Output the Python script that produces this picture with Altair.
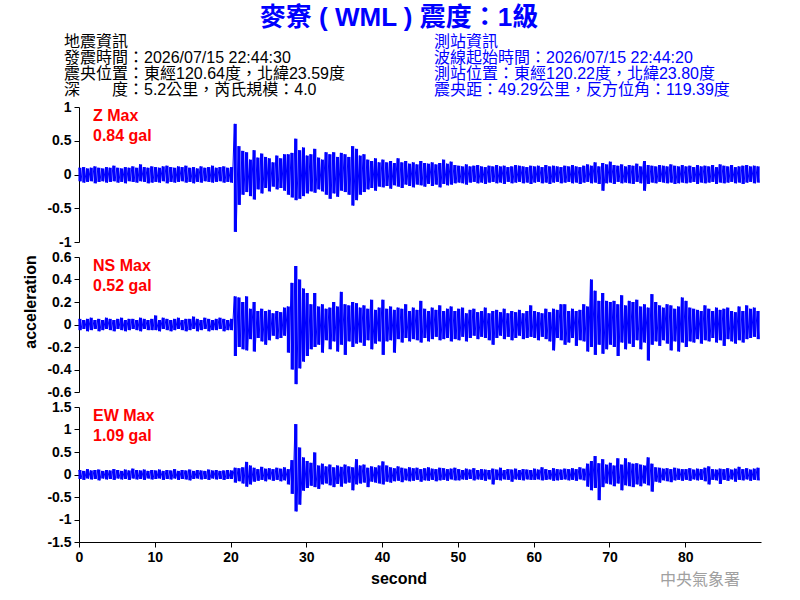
import altair as alt
import pandas as pd

# ---- waveform envelopes: one upper and one lower value per 0.5 s ----
STEP = 0.5

Z_UP = [
    0.10,0.11,0.09,0.10,0.12,0.10,0.09,0.11,0.10,0.13,0.10,0.09,0.11,0.10,0.12,0.10,0.15,0.11,0.10,0.12,
    0.11,0.10,0.12,0.13,0.11,0.10,0.12,0.11,0.13,0.10,0.11,0.09,0.12,0.10,0.11,0.13,0.10,0.11,0.12,0.10,
    0.11,0.75,0.42,0.35,0.33,0.22,0.36,0.25,0.31,0.26,0.24,0.18,0.28,0.24,0.30,0.30,0.32,0.53,0.36,0.40,
    0.28,0.30,0.38,0.25,0.22,0.33,0.30,0.33,0.26,0.32,0.30,0.26,0.42,0.38,0.28,0.30,0.22,0.20,0.24,0.18,
    0.22,0.18,0.20,0.17,0.24,0.18,0.20,0.16,0.18,0.15,0.20,0.17,0.16,0.18,0.15,0.17,0.22,0.16,0.19,0.14,
    0.13,0.12,0.15,0.12,0.13,0.14,0.12,0.11,0.13,0.12,0.14,0.12,0.13,0.11,0.12,0.14,0.13,0.12,0.11,0.13,
    0.12,0.13,0.11,0.14,0.12,0.13,0.12,0.11,0.13,0.12,0.14,0.12,0.11,0.13,0.15,0.13,0.18,0.12,0.17,0.15,
    0.19,0.14,0.13,0.15,0.12,0.14,0.13,0.16,0.12,0.20,0.14,0.13,0.12,0.14,0.13,0.12,0.15,0.13,0.12,0.14,
    0.12,0.13,0.11,0.14,0.12,0.13,0.12,0.14,0.11,0.15,0.13,0.12,0.14,0.11,0.12,0.13,0.14,0.12,0.13,0.12,
]
Z_LO = [
    -0.10,-0.12,-0.11,-0.10,-0.13,-0.11,-0.10,-0.12,-0.11,-0.10,-0.12,-0.11,-0.13,-0.10,-0.11,-0.12,-0.10,-0.11,-0.13,-0.12,
    -0.11,-0.12,-0.10,-0.13,-0.11,-0.12,-0.11,-0.10,-0.12,-0.11,-0.13,-0.11,-0.12,-0.10,-0.11,-0.12,-0.11,-0.10,-0.12,-0.11,
    -0.12,-0.85,-0.45,-0.30,-0.26,-0.32,-0.37,-0.22,-0.28,-0.20,-0.25,-0.18,-0.22,-0.20,-0.24,-0.30,-0.34,-0.38,-0.36,-0.32,
    -0.28,-0.25,-0.27,-0.22,-0.25,-0.30,-0.36,-0.28,-0.33,-0.24,-0.26,-0.30,-0.46,-0.38,-0.30,-0.26,-0.22,-0.20,-0.24,-0.18,
    -0.19,-0.17,-0.21,-0.16,-0.18,-0.20,-0.15,-0.17,-0.19,-0.15,-0.16,-0.18,-0.14,-0.17,-0.15,-0.19,-0.14,-0.16,-0.15,-0.13,
    -0.12,-0.13,-0.15,-0.12,-0.11,-0.13,-0.12,-0.14,-0.12,-0.11,-0.13,-0.12,-0.14,-0.11,-0.13,-0.12,-0.11,-0.13,-0.12,-0.14,
    -0.12,-0.11,-0.13,-0.12,-0.14,-0.12,-0.11,-0.13,-0.12,-0.11,-0.13,-0.12,-0.14,-0.12,-0.11,-0.13,-0.12,-0.14,-0.24,-0.13,
    -0.12,-0.14,-0.11,-0.13,-0.12,-0.13,-0.14,-0.11,-0.13,-0.24,-0.14,-0.12,-0.13,-0.11,-0.12,-0.13,-0.12,-0.14,-0.13,-0.12,
    -0.13,-0.12,-0.11,-0.14,-0.12,-0.13,-0.12,-0.11,-0.14,-0.12,-0.13,-0.12,-0.11,-0.13,-0.12,-0.14,-0.12,-0.11,-0.13,-0.12,
]
NS_UP = [
    0.05,0.04,0.05,0.06,0.04,0.05,0.04,0.06,0.05,0.04,0.05,0.06,0.04,0.05,0.05,0.04,0.06,0.05,0.04,0.05,
    0.08,0.04,0.06,0.05,0.04,0.05,0.06,0.04,0.05,0.05,0.07,0.05,0.04,0.06,0.05,0.04,0.05,0.06,0.05,0.04,
    0.05,0.25,0.24,0.20,0.25,0.14,0.20,0.12,0.14,0.12,0.13,0.10,0.12,0.11,0.15,0.16,0.37,0.52,0.40,0.32,
    0.28,0.18,0.28,0.16,0.18,0.14,0.15,0.20,0.16,0.29,0.18,0.17,0.20,0.19,0.15,0.17,0.14,0.22,0.13,0.15,
    0.22,0.14,0.16,0.13,0.15,0.14,0.18,0.12,0.15,0.13,0.21,0.14,0.12,0.15,0.13,0.17,0.12,0.14,0.16,0.12,
    0.14,0.15,0.10,0.13,0.14,0.11,0.12,0.15,0.10,0.12,0.13,0.11,0.14,0.10,0.12,0.11,0.13,0.10,0.12,0.17,
    0.12,0.11,0.10,0.14,0.11,0.14,0.13,0.18,0.18,0.12,0.14,0.12,0.13,0.18,0.16,0.40,0.30,0.21,0.28,0.21,
    0.20,0.21,0.18,0.26,0.17,0.21,0.20,0.22,0.16,0.18,0.15,0.27,0.20,0.17,0.15,0.18,0.17,0.14,0.16,0.24,
    0.21,0.15,0.14,0.13,0.12,0.17,0.14,0.12,0.15,0.13,0.14,0.15,0.12,0.11,0.16,0.12,0.17,0.14,0.15,0.12,
]
NS_LO = [
    -0.05,-0.04,-0.06,-0.05,-0.04,-0.06,-0.05,-0.04,-0.05,-0.06,-0.04,-0.05,-0.06,-0.05,-0.04,-0.05,-0.06,-0.04,-0.05,-0.05,
    -0.05,-0.06,-0.04,-0.05,-0.06,-0.05,-0.04,-0.05,-0.06,-0.05,-0.04,-0.06,-0.05,-0.04,-0.06,-0.05,-0.05,-0.04,-0.06,-0.05,
    -0.05,-0.28,-0.20,-0.22,-0.23,-0.13,-0.24,-0.12,-0.15,-0.18,-0.14,-0.10,-0.13,-0.12,-0.10,-0.25,-0.40,-0.53,-0.39,-0.33,
    -0.28,-0.22,-0.20,-0.18,-0.25,-0.14,-0.22,-0.15,-0.24,-0.18,-0.27,-0.15,-0.20,-0.17,-0.16,-0.19,-0.14,-0.22,-0.17,-0.15,
    -0.27,-0.15,-0.14,-0.25,-0.13,-0.16,-0.12,-0.15,-0.13,-0.14,-0.16,-0.12,-0.15,-0.13,-0.11,-0.14,-0.13,-0.12,-0.15,-0.13,
    -0.14,-0.11,-0.15,-0.12,-0.10,-0.13,-0.11,-0.12,-0.14,-0.18,-0.12,-0.10,-0.13,-0.11,-0.14,-0.12,-0.10,-0.13,-0.12,-0.11,
    -0.12,-0.14,-0.11,-0.13,-0.15,-0.23,-0.12,-0.14,-0.18,-0.16,-0.12,-0.19,-0.14,-0.15,-0.24,-0.20,-0.27,-0.18,-0.26,-0.22,
    -0.18,-0.20,-0.28,-0.16,-0.22,-0.17,-0.20,-0.14,-0.22,-0.16,-0.32,-0.18,-0.15,-0.19,-0.14,-0.17,-0.23,-0.15,-0.24,-0.16,
    -0.20,-0.15,-0.16,-0.13,-0.17,-0.14,-0.15,-0.12,-0.16,-0.14,-0.19,-0.13,-0.15,-0.17,-0.14,-0.16,-0.13,-0.12,-0.11,-0.13,
]
EW_UP = [
    0.10,0.08,0.12,0.09,0.10,0.11,0.08,0.10,0.09,0.12,0.10,0.08,0.11,0.09,0.13,0.10,0.09,0.11,0.08,0.10,
    0.09,0.11,0.08,0.10,0.09,0.12,0.08,0.10,0.09,0.11,0.08,0.10,0.09,0.08,0.11,0.09,0.10,0.08,0.09,0.10,
    0.09,0.15,0.14,0.16,0.28,0.20,0.15,0.12,0.17,0.13,0.14,0.12,0.15,0.13,0.16,0.12,0.32,1.12,0.60,0.38,
    0.30,0.26,0.49,0.20,0.24,0.18,0.22,0.16,0.20,0.17,0.22,0.18,0.16,0.34,0.20,0.22,0.15,0.18,0.16,0.20,
    0.29,0.20,0.16,0.14,0.18,0.15,0.13,0.16,0.14,0.15,0.12,0.14,0.16,0.13,0.12,0.15,0.14,0.12,0.13,0.15,
    0.12,0.10,0.13,0.11,0.14,0.10,0.12,0.11,0.10,0.13,0.11,0.15,0.10,0.12,0.11,0.13,0.10,0.12,0.11,0.10,
    0.13,0.11,0.16,0.12,0.10,0.14,0.12,0.11,0.13,0.12,0.14,0.12,0.16,0.13,0.24,0.30,0.41,0.25,0.34,0.22,
    0.26,0.20,0.36,0.22,0.36,0.27,0.24,0.25,0.22,0.20,0.38,0.24,0.16,0.15,0.13,0.14,0.12,0.15,0.13,0.12,
    0.12,0.14,0.11,0.13,0.12,0.15,0.18,0.12,0.11,0.13,0.12,0.14,0.11,0.13,0.17,0.12,0.14,0.11,0.13,0.15,
]
EW_LO = [
    -0.10,-0.12,-0.09,-0.11,-0.10,-0.13,-0.09,-0.11,-0.10,-0.12,-0.09,-0.11,-0.10,-0.12,-0.09,-0.11,-0.10,-0.12,-0.09,-0.11,
    -0.10,-0.09,-0.12,-0.10,-0.11,-0.09,-0.12,-0.10,-0.11,-0.13,-0.10,-0.09,-0.11,-0.10,-0.12,-0.09,-0.11,-0.10,-0.12,-0.10,
    -0.10,-0.18,-0.15,-0.20,-0.27,-0.22,-0.16,-0.14,-0.12,-0.15,-0.11,-0.14,-0.12,-0.15,-0.13,-0.22,-0.43,-0.82,-0.67,-0.36,
    -0.30,-0.25,-0.28,-0.32,-0.22,-0.20,-0.24,-0.28,-0.21,-0.27,-0.20,-0.18,-0.35,-0.22,-0.20,-0.18,-0.28,-0.16,-0.18,-0.20,
    -0.22,-0.16,-0.18,-0.15,-0.14,-0.17,-0.13,-0.15,-0.14,-0.12,-0.16,-0.13,-0.14,-0.12,-0.15,-0.13,-0.12,-0.14,-0.11,-0.13,
    -0.13,-0.11,-0.12,-0.10,-0.13,-0.11,-0.12,-0.14,-0.11,-0.22,-0.12,-0.13,-0.11,-0.12,-0.16,-0.11,-0.12,-0.13,-0.11,-0.12,
    -0.12,-0.11,-0.13,-0.12,-0.11,-0.14,-0.13,-0.12,-0.11,-0.13,-0.12,-0.14,-0.11,-0.13,-0.27,-0.35,-0.30,-0.57,-0.28,-0.20,
    -0.22,-0.26,-0.20,-0.35,-0.24,-0.26,-0.28,-0.22,-0.26,-0.20,-0.24,-0.38,-0.16,-0.18,-0.13,-0.15,-0.17,-0.13,-0.12,-0.14,
    -0.12,-0.14,-0.11,-0.13,-0.12,-0.15,-0.22,-0.12,-0.13,-0.21,-0.12,-0.14,-0.11,-0.16,-0.12,-0.13,-0.11,-0.14,-0.12,-0.13,
]

Z_TICKS = [-1, -0.5, 0, 0.5, 1]
NS_TICKS = [-0.6, -0.4, -0.2, 0, 0.2, 0.4, 0.6]
EW_TICKS = [-1.5, -1, -0.5, 0, 0.5, 1, 1.5]
X_TICKS = [0, 10, 20, 30, 40, 50, 60, 70, 80]

TITLE = "麥寮 ( WML ) 震度：1級"
LEFT_INFO = ["地震資訊", "發震時間：2026/07/15 22:44:30",
             "震央位置：東經120.64度，北緯23.59度", "深　　度：5.2公里，芮氏規模：4.0"]
RIGHT_INFO = ["測站資訊", "波線起始時間：2026/07/15 22:44:20",
              "測站位置：東經120.22度，北緯23.80度", "震央距：49.29公里，反方位角：119.39度"]
MAX_LABELS = [("Z Max", "0.84 gal"), ("NS Max", "0.52 gal"), ("EW Max", "1.09 gal")]

FONT = "Liberation Sans, Noto Sans CJK TC"
BLUE = "#0000ff"
W, H = 682, 135


def zigzag_df(up, lo):
    rows = []
    for i, (u, l) in enumerate(zip(up, lo)):
        rows.append({"t": i * STEP, "a": u})
        rows.append({"t": i * STEP + STEP / 2, "a": l})
    return pd.DataFrame(rows)


def bins_df(up, lo):
    return pd.DataFrame({"t": [i * STEP + STEP / 4 for i in range(len(up))], "a": up, "lo": lo})


ONE = pd.DataFrame({"k": [0]})


def text(s, x, y, color="black", size=16, weight="normal", align="left", angle=None):
    kw = dict(text=s, color=color, fontSize=size, fontWeight=weight, font=FONT,
              align=align, baseline="middle")
    if angle is not None:
        kw["angle"] = angle
    return alt.Chart(ONE).mark_text(**kw).encode(x=alt.value(x), y=alt.value(y))


def panel(up, lo, domain, ticks, labels, show_x):
    xs = alt.Scale(domain=[0, 90], nice=False, zero=False)
    ys = alt.Scale(domain=domain, nice=False, zero=False)

    def xenc():
        if show_x:
            return alt.X("t:Q", scale=xs, axis=alt.Axis(values=X_TICKS, title=None, labelFlush=False,
                                                        grid=False, labelOverlap=False))
        return alt.X("t:Q", scale=xs, axis=None)

    def yenc():
        return alt.Y("a:Q", scale=ys,
                     axis=alt.Axis(values=ticks, title=None, grid=False, labelOverlap=False,
                                   labelExpr="'' + datum.value"))

    line = alt.Chart(zigzag_df(up, lo)).mark_line(color=BLUE, strokeWidth=1).encode(
        x=xenc(), y=yenc())
    bars = alt.Chart(bins_df(up, lo)).mark_rule(color=BLUE, strokeWidth=3).encode(
        x=xenc(), y=yenc(), y2="lo:Q")
    layers = [line, bars,
              text(labels[0], 14, 9, color="#ff0000", size=16, weight="bold"),
              text(labels[1], 14, 29, color="#ff0000", size=16, weight="bold")]
    return layers


p1 = panel(Z_UP, Z_LO, [-1, 1], Z_TICKS, MAX_LABELS[0], False)
p1 += [text(TITLE, 320, -89, color=BLUE, size=26, weight="bold", align="center")]
for i, s in enumerate(LEFT_INFO):
    p1.append(text(s, -15, -65 + 16 * i, size=16))
for i, s in enumerate(RIGHT_INFO):
    p1.append(text(s, 355, -65 + 16 * i, color=BLUE, size=16))

p2 = panel(NS_UP, NS_LO, [-0.6, 0.6], NS_TICKS, MAX_LABELS[1], False)
p2.append(text("acceleration", -48, 45, size=16, weight="bold", align="center", angle=270))

p3 = panel(EW_UP, EW_LO, [-1.5, 1.5], EW_TICKS, MAX_LABELS[2], True)
p3.append(text("second", 320, 172, size=16, weight="bold", align="center"))
p3.append(text("中央氣象署", 621, 173, color="#a0a0a0", size=16, align="center"))

charts = [alt.layer(*p).properties(width=W, height=H) for p in (p1, p2, p3)]

chart = alt.vconcat(*charts, spacing=15, bounds="flush").properties(
    padding={"left": 23, "top": 5, "right": 5, "bottom": 5}
).configure_view(stroke=None).configure_axis(
    labelFont="Liberation Sans", labelFontSize=14, labelFontWeight="bold", labelColor="black",
    domainColor="black", tickColor="black", tickSize=5, domainWidth=1, tickWidth=1,
    labelPadding=3,
)

chart.save("out.html", embed_options={"renderer": "svg", "actions": False})
